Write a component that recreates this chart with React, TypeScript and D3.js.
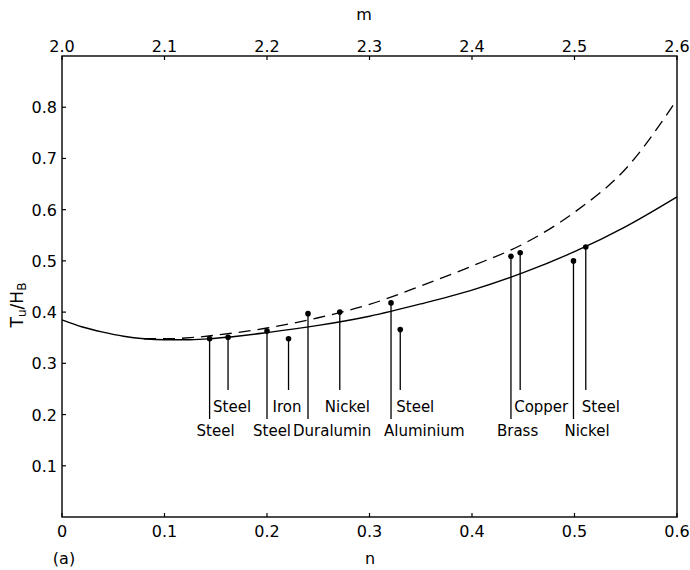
import React from "react";
import * as d3 from "d3";

// ---- data ----
const nTicks = [0, 0.1, 0.2, 0.3, 0.4, 0.5, 0.6];
const nTickLabels = ["0", "0.1", "0.2", "0.3", "0.4", "0.5", "0.6"];
const mTicks = [2.0, 2.1, 2.2, 2.3, 2.4, 2.5, 2.6];
const mTickLabels = ["2.0", "2.1", "2.2", "2.3", "2.4", "2.5", "2.6"];
const yTicks = [0.1, 0.2, 0.3, 0.4, 0.5, 0.6, 0.7, 0.8];
const yTickLabels = ["0.1", "0.2", "0.3", "0.4", "0.5", "0.6", "0.7", "0.8"];

const solidN = [0, 0.02, 0.04, 0.06, 0.08, 0.1, 0.125, 0.15, 0.2, 0.25, 0.3, 0.35, 0.4, 0.45, 0.5, 0.55, 0.6];
const solidY = [0.385, 0.371, 0.361, 0.353, 0.348, 0.346, 0.346, 0.349, 0.36, 0.374, 0.392, 0.416, 0.443, 0.477, 0.518, 0.567, 0.625];

const dashedN = [0.08, 0.1, 0.125, 0.15, 0.2, 0.25, 0.3, 0.35, 0.4, 0.45, 0.5, 0.55, 0.6];
const dashedY = [0.348, 0.348, 0.35, 0.355, 0.369, 0.389, 0.415, 0.451, 0.49, 0.533, 0.595, 0.68, 0.815];

const pointN = [0.144, 0.162, 0.2, 0.221, 0.24, 0.271, 0.321, 0.33, 0.438, 0.447, 0.499, 0.511];
const pointY = [0.348, 0.351, 0.363, 0.348, 0.397, 0.4, 0.418, 0.366, 0.509, 0.516, 0.5, 0.527];
const materials = ["Steel", "Steel", "Steel", "Iron", "Duralumin", "Nickel", "Aluminium", "Steel", "Brass", "Copper", "Nickel", "Steel"];
const labelRow = [2, 1, 2, 1, 2, 1, 2, 1, 2, 1, 2, 1];

// ---- layout (annotation offsets, px) ----
const labelDx = [-13, -15, -14, -16, -15, -15, -7, -4, -14, -6, -9, -4];

const W = 690;
const H = 570;
const left = 62, right = 677, top = 56, bottom = 517;
const FONT = "DejaVu Sans, sans-serif";

export default function App() {
  const x = d3.scaleLinear().domain([0, 0.6]).range([left, right]);
  const xm = d3.scaleLinear().domain([2.0, 2.6]).range([left, right]);
  const y = d3.scaleLinear().domain([0, 0.9]).range([bottom, top]);

  const line = d3
    .line<[number, number]>()
    .x((d) => x(d[0]))
    .y((d) => y(d[1]))
    .curve(d3.curveMonotoneX);

  const solidPath = line(solidN.map((n, i) => [n, solidY[i]] as [number, number])) || "";
  const dashedPath = line(dashedN.map((n, i) => [n, dashedY[i]] as [number, number])) || "";

  const row1Base = 412;
  const row2Base = 436;
  const row1LineEnd = 390;
  const row2LineEnd = 419;

  return (
    <svg width={W} height={H} style={{ position: "absolute", left: 0, top: 0, background: "#fff" }} fontFamily={FONT}>
      {/* frame */}
      <rect x={left} y={top} width={right - left} height={bottom - top} fill="none" stroke="#000" strokeWidth={1.4} />

      {/* bottom axis ticks */}
      {nTicks.map((t, i) => (
        <g key={"nt" + i}>
          <line x1={x(t)} x2={x(t)} y1={bottom} y2={bottom - 4} stroke="#000" strokeWidth={1.2} />
          <text x={x(t)} y={537} fontSize={16} textAnchor="middle">{nTickLabels[i]}</text>
        </g>
      ))}
      {/* top axis ticks */}
      {mTicks.map((t, i) => (
        <g key={"mt" + i}>
          <line x1={xm(t)} x2={xm(t)} y1={top} y2={top + 4} stroke="#000" strokeWidth={1.2} />
          <text x={xm(t)} y={52} fontSize={16} textAnchor="middle">{mTickLabels[i]}</text>
        </g>
      ))}
      {/* left axis ticks */}
      {yTicks.map((t, i) => (
        <g key={"yt" + i}>
          <line x1={left} x2={left + 4} y1={y(t)} y2={y(t)} stroke="#000" strokeWidth={1.2} />
          <text x={57} y={y(t) + 6} fontSize={16} textAnchor="end">{yTickLabels[i]}</text>
        </g>
      ))}

      {/* axis titles */}
      <text x={364} y={20} fontSize={16} textAnchor="middle">m</text>
      <text x={370} y={564} fontSize={16} textAnchor="middle">n</text>
      <text x={64} y={564} fontSize={16} textAnchor="middle">(a)</text>
      <text transform={`translate(23, 305) rotate(-90)`} fontSize={17} textAnchor="middle">
        T<tspan fontSize={12} dy={3}>u</tspan>
        <tspan dy={-3}>/H</tspan>
        <tspan fontSize={12} dy={3}>B</tspan>
      </text>

      {/* curves */}
      <path d={solidPath} fill="none" stroke="#000" strokeWidth={1.4} />
      <path d={dashedPath} fill="none" stroke="#000" strokeWidth={1.3} strokeDasharray="12 7" />

      {/* data points with leader lines and labels */}
      {pointN.map((n, i) => {
        const px = x(n);
        const py = y(pointY[i]);
        const row = labelRow[i];
        const yEnd = row === 1 ? row1LineEnd : row2LineEnd;
        const base = row === 1 ? row1Base : row2Base;
        return (
          <g key={"p" + i}>
            <line x1={px} x2={px} y1={py} y2={yEnd} stroke="#000" strokeWidth={1.3} />
            <circle cx={px} cy={py} r={2.8} fill="#000" />
            <text x={px + labelDx[i]} y={base} fontSize={15}>{materials[i]}</text>
          </g>
        );
      })}
    </svg>
  );
}
